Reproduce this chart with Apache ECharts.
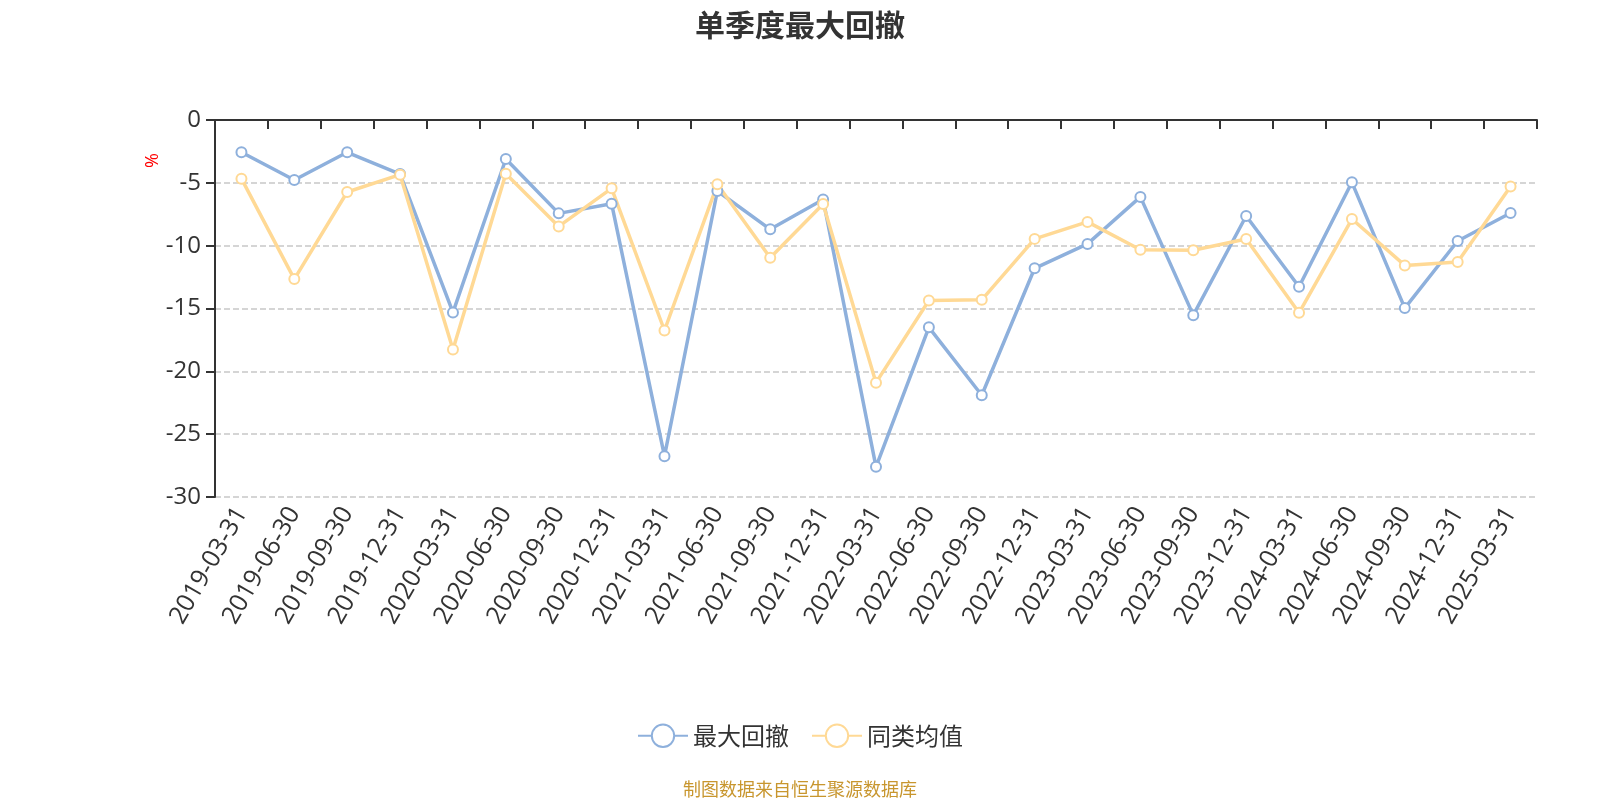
<!DOCTYPE html>
<html>
<head>
<meta charset="utf-8">
<script src="https://cdn.jsdelivr.net/npm/echarts@6/dist/echarts.min.js"></script>
<style>
html,body{margin:0;padding:0;background:#fff;}
#main{width:1600px;height:800px;}
</style>
</head>
<body>
<div id="main"></div>
<script>
const titleText = '单季度最大回撤';
const categories = ['2019-03-31','2019-06-30','2019-09-30','2019-12-31','2020-03-31','2020-06-30','2020-09-30','2020-12-31','2021-03-31','2021-06-30','2021-09-30','2021-12-31','2022-03-31','2022-06-30','2022-09-30','2022-12-31','2023-03-31','2023-06-30','2023-09-30','2023-12-31','2024-03-31','2024-06-30','2024-09-30','2024-12-31','2025-03-31'];
const seriesNames = ['最大回撤','同类均值'];
const maxDrawdown = [-2.57,-4.78,-2.57,-4.30,-15.31,-3.10,-7.43,-6.66,-26.75,-5.65,-8.70,-6.32,-27.60,-16.50,-21.90,-11.80,-9.86,-6.12,-15.53,-7.64,-13.27,-4.96,-14.97,-9.63,-7.40];
const peerAverage = [-4.67,-12.66,-5.73,-4.35,-18.26,-4.27,-8.47,-5.44,-16.75,-5.12,-10.96,-6.69,-20.90,-14.36,-14.31,-9.46,-8.11,-10.33,-10.37,-9.47,-15.34,-7.88,-11.57,-11.30,-5.30];
const yUnit = '%';
const sourceText = '制图数据来自恒生聚源数据库';

const FONT = '"Open Sans","Noto Sans CJK SC",sans-serif';
const chart = echarts.init(document.getElementById('main'));
chart.setOption({
  backgroundColor: '#fff',
  animation: false,
  title: {
    text: titleText, left: 'center', top: 5,
    textStyle: {fontSize: 30, fontWeight: 'bold', color: '#333', fontFamily: '"Noto Sans CJK SC",sans-serif'}
  },
  legend: {
    data: seriesNames, bottom: 47, left: 'center',
    itemWidth: 50, itemHeight: 28, itemGap: 22,
    textStyle: {fontSize: 24, color: '#333', fontFamily: '"Noto Sans CJK SC",sans-serif'}
  },
  grid: {left: 215, right: 63, top: 120, bottom: 303},
  xAxis: [
    {
      type: 'category', data: categories, position: 'bottom',
      axisLine: {show: false, onZero: false},
      axisTick: {show: false},
      axisLabel: {rotate: 60, fontSize: 25, color: '#333', interval: 0, margin: 12, fontFamily: FONT}
    },
    {
      type: 'category', data: categories, position: 'top',
      axisLine: {show: true, onZero: false, lineStyle: {color: '#333', width: 2}},
      axisTick: {show: true, inside: true, interval: 0, length: 9, lineStyle: {color: '#333', width: 2}},
      axisLabel: {show: false}
    }
  ],
  yAxis: {
    type: 'value', min: -30, max: 0, interval: 5,
    axisLine: {show: true, lineStyle: {color: '#333', width: 2}},
    axisTick: {show: true, length: 9, lineStyle: {color: '#333', width: 2}},
    axisLabel: {fontSize: 24, color: '#333', margin: 14, fontFamily: FONT},
    splitLine: {show: true, lineStyle: {color: '#c8c8c8', type: 'dashed', width: 1.5}}
  },
  graphic: [
    {
      type: 'text', left: 144, top: 153, rotation: Math.PI / 2,
      style: {text: yUnit, fill: '#ff0000', fontSize: 18, fontFamily: FONT}
    },
    {
      type: 'text', left: 'center', bottom: 2,
      style: {text: sourceText, fill: '#c8962e', fontSize: 18, fontFamily: '"Noto Sans CJK SC",sans-serif'}
    }
  ],
  series: [
    {
      name: seriesNames[0], type: 'line', data: maxDrawdown, xAxisIndex: 0,
      symbol: 'emptyCircle', symbolSize: 10,
      lineStyle: {width: 3.5, color: '#8eb0dc'},
      itemStyle: {color: '#8eb0dc', borderWidth: 2}
    },
    {
      name: seriesNames[1], type: 'line', data: peerAverage, xAxisIndex: 0,
      symbol: 'emptyCircle', symbolSize: 10,
      lineStyle: {width: 3.5, color: '#ffd995'},
      itemStyle: {color: '#ffd995', borderWidth: 2}
    }
  ]
});
</script>
</body>
</html>
